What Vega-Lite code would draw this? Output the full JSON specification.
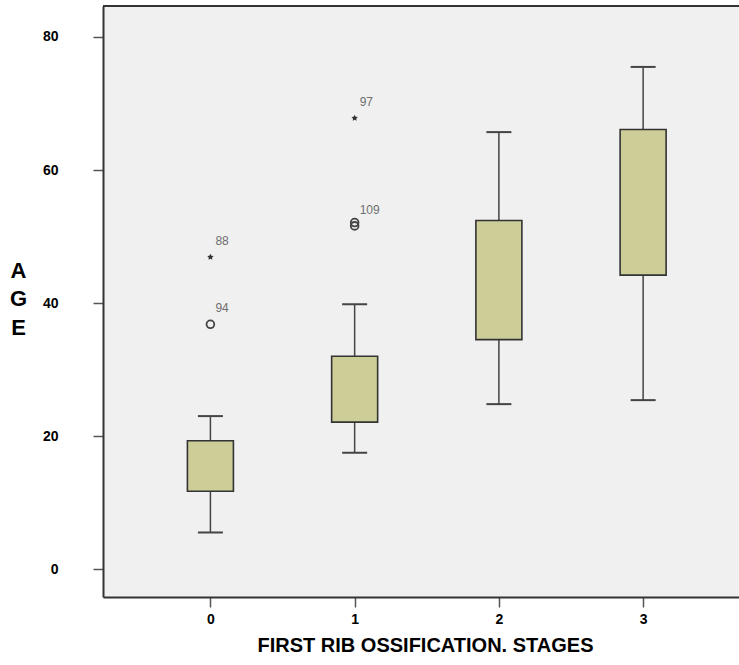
{
  "$schema": "https://vega.github.io/schema/vega-lite/v6.json",
  "width": 636,
  "height": 591,
  "autosize": {"type": "none"},
  "padding": {"left": 103, "top": 6, "right": 0, "bottom": 68},
  "background": "white",
  "config": {
    "view": {"fill": "#f0f0f0", "stroke": null},
    "axis": {"grid": false, "domainColor": "#333", "domainWidth": 2, "tickColor": "#555", "tickWidth": 1.5, "tickSize": 10,
             "labelFont": "Liberation Sans", "labelFontWeight": "bold", "labelFontSize": 14, "labelColor": "#000",
             "titleFont": "Liberation Sans", "titleFontWeight": "bold", "titleColor": "#000"},
    "axisX": {"labelPadding": 5, "titleFontSize": 20, "titleX": 322, "titleY": 54, "titleAlign": "center", "titleBaseline": "alphabetic"},
    "axisY": {"labelPadding": 35, "titleFontSize": 22, "titleAngle": 0, "titleX": -85, "titleY": 271, "titleAlign": "center", "titleBaseline": "alphabetic", "titleLineHeight": 28.5}
  },
  "datasets": {
    "boxes": [
      {"stage": 0, "lower": 5.5, "q1": 11.7, "q3": 19.3, "upper": 23.0},
      {"stage": 1, "lower": 17.5, "q1": 22.1, "q3": 32.0, "upper": 39.8},
      {"stage": 2, "lower": 24.8, "q1": 34.5, "q3": 52.4, "upper": 65.7},
      {"stage": 3, "lower": 25.4, "q1": 44.2, "q3": 66.1, "upper": 75.5}
    ],
    "outliers": [
      {"stage": 0, "age": 46.9, "kind": "extreme", "case": "88"},
      {"stage": 0, "age": 36.8, "kind": "outlier", "case": "94"},
      {"stage": 1, "age": 67.8, "kind": "extreme", "case": "97"},
      {"stage": 1, "age": 51.6, "kind": "outlier", "case": "109"},
      {"stage": 1, "age": 52.1, "kind": "outlier", "case": ""}
    ]
  },
  "layer": [
    {
      "data": {"name": "boxes"},
      "mark": {"type": "rule", "color": "#444", "strokeWidth": 1.5},
      "encoding": {
        "x": {
          "field": "stage", "type": "quantitative", "title": "FIRST RIB OSSIFICATION. STAGES",
          "scale": {"domain": [-0.71, 3.63], "nice": false, "zero": false},
          "axis": {"values": [0, 1, 2, 3], "format": "d"}
        },
        "y": {
          "field": "lower", "type": "quantitative", "title": ["A", "G", "E"],
          "scale": {"domain": [-4.2, 84.66], "nice": false, "zero": false},
          "axis": {"values": [0, 20, 40, 60, 80]}
        },
        "y2": {"field": "q1"}
      }
    },
    {
      "data": {"name": "boxes"},
      "mark": {"type": "rule", "color": "#444", "strokeWidth": 1.5},
      "encoding": {
        "x": {"field": "stage", "type": "quantitative", "title": "FIRST RIB OSSIFICATION. STAGES"},
        "y": {"field": "q3", "type": "quantitative", "title": ["A", "G", "E"]},
        "y2": {"field": "upper"}
      }
    },
    {
      "data": {"name": "boxes"},
      "mark": {"type": "tick", "orient": "horizontal", "size": 25, "thickness": 2, "color": "#444", "opacity": 1},
      "encoding": {
        "x": {"field": "stage", "type": "quantitative", "title": "FIRST RIB OSSIFICATION. STAGES"},
        "y": {"field": "lower", "type": "quantitative", "title": ["A", "G", "E"]}
      }
    },
    {
      "data": {"name": "boxes"},
      "mark": {"type": "tick", "orient": "horizontal", "size": 25, "thickness": 2, "color": "#444", "opacity": 1},
      "encoding": {
        "x": {"field": "stage", "type": "quantitative", "title": "FIRST RIB OSSIFICATION. STAGES"},
        "y": {"field": "upper", "type": "quantitative", "title": ["A", "G", "E"]}
      }
    },
    {
      "data": {"name": "boxes"},
      "mark": {"type": "bar", "size": 46, "fill": "#cdcd98", "stroke": "#333", "strokeWidth": 1.6},
      "encoding": {
        "x": {"field": "stage", "type": "quantitative", "title": "FIRST RIB OSSIFICATION. STAGES"},
        "y": {"field": "q1", "type": "quantitative", "title": ["A", "G", "E"]},
        "y2": {"field": "q3"}
      }
    },
    {
      "data": {"name": "outliers"},
      "transform": [{"filter": "datum.kind === 'outlier'"}],
      "mark": {"type": "point", "shape": "circle", "size": 60, "filled": false, "stroke": "#444", "strokeWidth": 1.8, "opacity": 1},
      "encoding": {
        "x": {"field": "stage", "type": "quantitative", "title": "FIRST RIB OSSIFICATION. STAGES"},
        "y": {"field": "age", "type": "quantitative", "title": ["A", "G", "E"]}
      }
    },
    {
      "data": {"name": "outliers"},
      "transform": [{"filter": "datum.kind === 'extreme'"}],
      "mark": {"type": "point", "shape": "M0,-1L0.29,-0.4L0.95,-0.31L0.47,0.15L0.59,0.81L0,0.5L-0.59,0.81L-0.47,0.15L-0.95,-0.31L-0.29,-0.4Z", "size": 45, "filled": true, "fill": "#333", "strokeWidth": 0, "opacity": 1},
      "encoding": {
        "x": {"field": "stage", "type": "quantitative", "title": "FIRST RIB OSSIFICATION. STAGES"},
        "y": {"field": "age", "type": "quantitative", "title": ["A", "G", "E"]}
      }
    },
    {
      "data": {"name": "outliers"},
      "mark": {"type": "text", "align": "left", "baseline": "middle", "dx": 5, "dy": -16, "fontSize": 12, "font": "Liberation Sans", "color": "#6e6e6e"},
      "encoding": {
        "x": {"field": "stage", "type": "quantitative", "title": "FIRST RIB OSSIFICATION. STAGES"},
        "y": {"field": "age", "type": "quantitative", "title": ["A", "G", "E"]},
        "text": {"field": "case"}
      }
    },
    {
      "data": {"values": [{}]},
      "mark": {"type": "rule", "color": "#333", "strokeWidth": 2},
      "encoding": {
        "y": {"datum": 84.66, "type": "quantitative", "title": ["A", "G", "E"]}
      }
    }
  ]
}
